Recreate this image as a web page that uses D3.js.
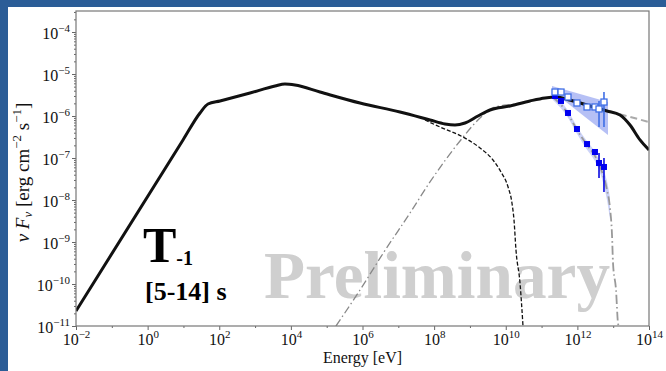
<!DOCTYPE html>
<html><head><meta charset="utf-8">
<script src="https://cdn.jsdelivr.net/npm/d3@7"></script>
<style>html,body{margin:0;padding:0;background:#2b5d97;} svg{display:block}</style>
</head><body>
<svg id="c" width="666" height="371"></svg>
<script>
// ---------------- data ----------------
const xTicks = [1e-2, 1e0, 1e2, 1e4, 1e6, 1e8, 1e10, 1e12, 1e14];
const xTickExp = ["−2", "0", "2", "4", "6", "8", "10", "12", "14"];
const yTicks = [1e-11, 1e-10, 1e-9, 1e-8, 1e-7, 1e-6, 1e-5, 1e-4];
const yTickExp = ["−11", "−10", "−9", "−8", "−7", "−6", "−5", "−4"];

// total model (solid black)
const modelEnergy = [1e-2, 9.73, 29.0, 48.5, 105, 723, 3.61e3, 6.85e3, 1.30e4, 6.50e4, 8.51e5, 1.11e7, 7.67e7, 2.01e8, 3.83e8, 7.28e8, 1.68e9, 3.63e9, 1.32e10, 4.75e10, 1.25e11, 2.53e11, 6.22e11, 2.25e12, 6.71e12, 1.55e13, 2.95e13, 5.61e13, 1e14];
const modelFlux   = [2.28e-11, 2.69e-7, 1.18e-6, 1.93e-6, 2.28e-6, 3.53e-6, 5.18e-6, 5.78e-6, 5.47e-6, 3.72e-6, 2.04e-6, 1.24e-6, 8.04e-7, 6.46e-7, 6.11e-7, 6.81e-7, 1.00e-6, 1.39e-6, 1.73e-6, 2.28e-6, 2.69e-6, 2.83e-6, 2.40e-6, 1.73e-6, 1.32e-6, 1.06e-6, 6.11e-7, 2.69e-7, 1.55e-7];

// synchrotron high-energy tail (black dashed)
const syncEnergy = [5.56e7, 1.46e8, 6.40e8, 1.91e9, 4.41e9, 7.36e9, 1.16e10, 1.49e10, 1.70e10, 1.93e10, 2.50e10, 3.03e10];
const syncFlux   = [8.04e-7, 5.47e-7, 3.16e-7, 1.73e-7, 8.95e-8, 4.65e-8, 2.04e-8, 8.49e-9, 3.34e-9, 6.46e-10, 1.06e-10, 1e-11];

// inverse-Compton component (gray dash-dot)
const icEnergy = [1.82e5, 8.51e5, 3.98e6, 2.12e7, 7.67e7, 5.28e8, 1.91e9, 5.01e9, 1.81e10, 9.04e10, 2.53e11];
const icFlux   = [1e-11, 7.19e-11, 5.78e-10, 4.90e-9, 2.69e-8, 2.54e-7, 8.95e-7, 1.64e-6, 1.93e-6, 2.54e-6, 2.83e-6];

// intrinsic extension (gray dashed)
const intrEnergy = [2.53e11, 1e14];
const intrFlux   = [2.83e-6, 7.19e-7];

// EBL-absorbed model (gray dash-dot)
const eblEnergy = [2.08e11, 5.47e11, 9.75e11, 1.86e12, 3.10e12, 4.88e12, 6.71e12, 8.15e12, 9.27e12, 9.89e12, 1.20e13, 1.36e13, 1.41e13];
const eblFlux   = [2.83e-6, 1.12e-6, 4.65e-7, 2.04e-7, 1.12e-7, 4.65e-8, 1.73e-8, 6.46e-9, 1.47e-9, 3.16e-10, 7.19e-11, 1.18e-11, 1e-11];

// observed band (filled points)
const obsBandEnergy = [2.08e11, 5.47e11, 9.75e11, 1.86e12, 3.10e12, 4.88e12, 6.71e12, 8.15e12];
const obsBandHigh   = [3.39e-6, 1.35e-6, 5.62e-7, 2.51e-7, 1.41e-7, 6.31e-8, 2.82e-8, 1.12e-8];
const obsBandLow    = [2.40e-6, 9.12e-7, 3.80e-7, 1.58e-7, 8.32e-8, 3.16e-8, 1.00e-8, 3.55e-9];

// intrinsic butterfly (open points)
const intBandEnergy = [1.96e11, 7.16e12];
const intBandHigh   = [5.18e-6, 2.15e-6];
const intBandLow    = [3.94e-6, 3.53e-7];

// spectral points
const ptEnergy   = [2.37e11, 3.49e11, 5.47e11, 9.75e11, 1.86e12, 3.10e12, 4.02e12, 5.53e12];
const openFlux   = [3.72e-6, 3.72e-6, 2.83e-6, 2.04e-6, 1.64e-6, 1.64e-6, 1.47e-6, 2.15e-6];
const openErrLo  = [null, null, null, null, null, null, 5.47e-7, 5.47e-7];
const openErrHi  = [null, null, null, null, null, null, 2.28e-6, 3.72e-6];
const filledFlux = [2.99e-6, 2.28e-6, 1.18e-6, 4.90e-7, 2.15e-7, 1.39e-7, 7.60e-8, 6.11e-8];
const filledErrLo = [null, null, null, null, null, null, 3.34e-8, 1.55e-8];
const filledErrHi = [null, null, null, null, null, null, 1.31e-7, 1.00e-7];

// ---------------- drawing ----------------
const svg = d3.select("#c");
const L = 76, R = 649, T = 11, B = 326;
const x = d3.scaleLog().domain([1e-2, 1e14]).range([L, R]);
const y = d3.scaleLog().domain([1e-11, Math.pow(10, -3.5)]).range([B, T]);
const serif = "'Liberation Serif', 'Times New Roman', serif";

svg.append("rect").attr("x", 8).attr("y", 7).attr("width", 666 - 8).attr("height", 371 - 7).attr("fill", "#ffffff");

svg.append("defs").append("clipPath").attr("id", "clip")
  .append("rect").attr("x", L).attr("y", T).attr("width", R - L).attr("height", B - T);

// watermark
svg.append("text").attr("x", 264).attr("y", 298)
  .attr("font-family", serif).attr("font-weight", "bold").attr("font-size", 68)
  .attr("fill", "#cfcfcf").attr("textLength", 346).attr("lengthAdjust", "spacingAndGlyphs")
  .text("Preliminary");

const g = svg.append("g").attr("clip-path", "url(#clip)");
const zip = (a, b) => a.map((v, i) => [v, b[i]]);
const line = d3.line().x(d => x(d[0])).y(d => y(d[1])).curve(d3.curveMonotoneX);
const area = d3.area().x(d => x(d[0])).y0(d => y(d[1])).y1(d => y(d[2])).curve(d3.curveMonotoneX);

// bands
g.append("path").attr("d", area(obsBandEnergy.map((e, i) => [e, obsBandLow[i], obsBandHigh[i]])))
  .attr("fill", "rgb(110,130,235)").attr("fill-opacity", 0.35);
g.append("path").attr("d", area(intBandEnergy.map((e, i) => [e, intBandLow[i], intBandHigh[i]])))
  .attr("fill", "rgb(80,105,230)").attr("fill-opacity", 0.42);

// component curves
g.append("path").attr("d", line(zip(intrEnergy, intrFlux)))
  .attr("fill", "none").attr("stroke", "#aaaaaa").attr("stroke-width", 2).attr("stroke-dasharray", "7,4");
g.append("path").attr("d", line(zip(icEnergy, icFlux)))
  .attr("fill", "none").attr("stroke", "#888888").attr("stroke-width", 1.3).attr("stroke-dasharray", "8,3,1.5,3");
g.append("path").attr("d", line(zip(syncEnergy, syncFlux)))
  .attr("fill", "none").attr("stroke", "#111111").attr("stroke-width", 1.3).attr("stroke-dasharray", "4,2");
g.append("path").attr("d", line(zip(eblEnergy, eblFlux)))
  .attr("fill", "none").attr("stroke", "#999999").attr("stroke-width", 1.8).attr("stroke-dasharray", "9,3,1.5,3");
g.append("path").attr("d", line(zip(modelEnergy, modelFlux)))
  .attr("fill", "none").attr("stroke", "#111111").attr("stroke-width", 3).attr("stroke-linejoin", "round");

// error bars
ptEnergy.forEach((e, i) => {
  if (openErrLo[i] !== null) {
    g.append("line").attr("x1", x(e)).attr("x2", x(e)).attr("y1", y(openErrLo[i])).attr("y2", y(openErrHi[i]))
      .attr("stroke", "#3f6ee6").attr("stroke-width", 1.6);
  }
  if (filledErrLo[i] !== null) {
    g.append("line").attr("x1", x(e)).attr("x2", x(e)).attr("y1", y(filledErrLo[i])).attr("y2", y(filledErrHi[i]))
      .attr("stroke", "#0a0ae0").attr("stroke-width", 1.6);
  }
});
// points
const s = 6;
g.selectAll(".fp").data(zip(ptEnergy, filledFlux)).enter().append("rect")
  .attr("x", d => x(d[0]) - s / 2).attr("y", d => y(d[1]) - s / 2).attr("width", s).attr("height", s)
  .attr("fill", "#0000f0");
g.selectAll(".op").data(zip(ptEnergy, openFlux)).enter().append("rect")
  .attr("x", d => x(d[0]) - s / 2).attr("y", d => y(d[1]) - s / 2).attr("width", s).attr("height", s)
  .attr("fill", "#ffffff").attr("stroke", "#3f6ee6").attr("stroke-width", 1.3);

// axes
const xAxis = d3.axisBottom(x).tickValues(xTicks).tickSize(4).tickFormat(() => "");
const gx = svg.append("g").attr("transform", `translate(0,${B})`).call(xAxis);
const xMinor = [1e-1, 1e1, 1e3, 1e5, 1e7, 1e9, 1e11, 1e13];
svg.append("g").attr("transform", `translate(0,${B})`)
  .call(d3.axisBottom(x).tickValues(xMinor).tickSize(2).tickFormat(() => ""))
  .call(a => a.select(".domain").remove());
gx.selectAll(".tick").append("text")
  .attr("y", 19).attr("fill", "#111").attr("font-family", serif).attr("font-size", 16)
  .attr("text-anchor", "middle")
  .each(function(d, i) {
    const t = d3.select(this);
    t.append("tspan").text("10");
    t.append("tspan").attr("dy", -7).attr("font-size", 11).text(xTickExp[i]);
  });

const yAxis = d3.axisLeft(y).tickValues(yTicks).tickSize(4).tickFormat(() => "");
const gy = svg.append("g").attr("transform", `translate(${L},0)`).call(yAxis);
const yMinor = [];
for (let d = -11; d <= -4; d++) for (let k = 2; k <= 9; k++) {
  const v = k * Math.pow(10, d);
  if (v < Math.pow(10, -3.5)) yMinor.push(v);
}
svg.append("g").attr("transform", `translate(${L},0)`)
  .call(d3.axisLeft(y).tickValues(yMinor).tickSize(2).tickFormat(() => ""))
  .call(a => a.select(".domain").remove());
gy.selectAll(".tick").append("text")
  .attr("x", -6).attr("y", 6).attr("fill", "#111").attr("font-family", serif).attr("font-size", 16)
  .attr("text-anchor", "end")
  .each(function(d, i) {
    const t = d3.select(this);
    t.append("tspan").text("10");
    t.append("tspan").attr("dy", -7).attr("font-size", 11).text(yTickExp[i]);
  });
svg.selectAll(".tick line").attr("stroke", "#666");
svg.selectAll(".domain").attr("stroke", "none");

// frame
svg.append("rect").attr("x", L).attr("y", T).attr("width", R - L).attr("height", B - T)
  .attr("fill", "none").attr("stroke", "#777").attr("stroke-width", 1.2);

// axis titles
svg.append("text").attr("x", (L + R) / 2).attr("y", 363).attr("text-anchor", "middle")
  .attr("font-family", serif).attr("font-size", 16).attr("fill", "#111").text("Energy [eV]");

const yl = svg.append("text").attr("transform", `translate(29,${(T + B) / 2 + 4}) rotate(-90)`)
  .attr("text-anchor", "middle").attr("font-family", serif).attr("font-size", 19).attr("fill", "#111");
yl.append("tspan").attr("font-style", "italic").text("ν F");
yl.append("tspan").attr("font-style", "italic").attr("font-size", 13).attr("dy", 3).text("ν");
yl.append("tspan").attr("dy", -3).text(" [erg cm");
yl.append("tspan").attr("font-size", 13).attr("dy", -8).text("−2");
yl.append("tspan").attr("dy", 8).text(" s");
yl.append("tspan").attr("font-size", 13).attr("dy", -8).text("−1");
yl.append("tspan").attr("dy", 8).text("]");

// panel labels
const tl = svg.append("text").attr("x", 143).attr("y", 262).attr("font-family", serif)
  .attr("font-weight", "bold").attr("fill", "#000");
tl.append("tspan").attr("font-size", 50).text("T");
tl.append("tspan").attr("font-size", 20).attr("dy", 3).text("-1");
svg.append("text").attr("x", 145).attr("y", 300).attr("font-family", serif)
  .attr("font-weight", "bold").attr("font-size", 26).attr("fill", "#000").text("[5-14] s");
</script>
</body></html>
